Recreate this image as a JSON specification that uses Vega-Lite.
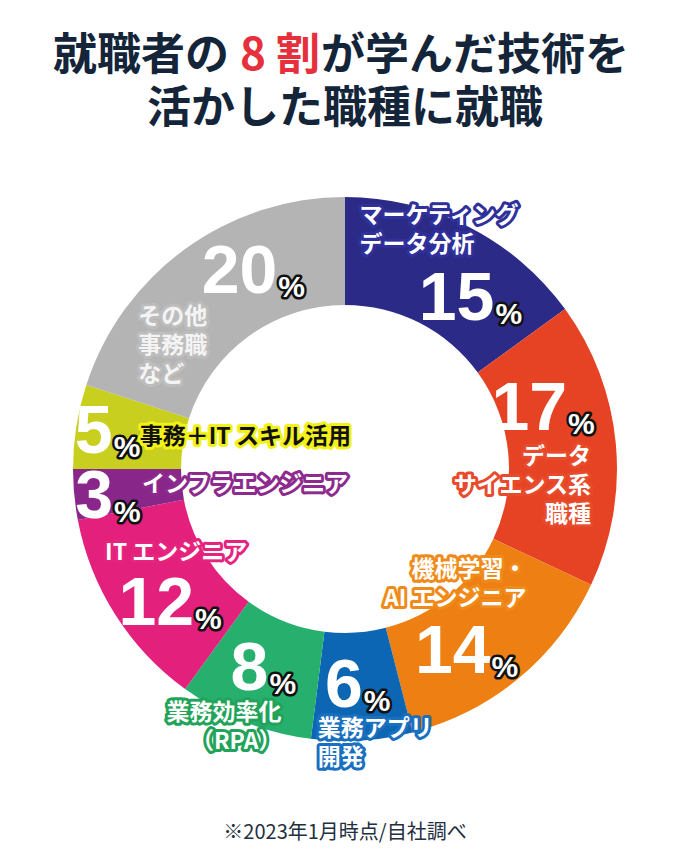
{
  "$schema": "https://vega.github.io/schema/vega-lite/v6.json",
  "width": 650,
  "height": 640,
  "autosize": {"type": "none"},
  "padding": {"left": 20, "top": 160, "right": 20, "bottom": 68},
  "background": "white",
  "config": {"view": {"fill": "#deeefa", "stroke": null, "cornerRadius": 14}},
  "datasets": {
    "share": [
      {"rank": 1, "category": "marketing", "label": "マーケティング\nデータ分析", "value": 15},
      {"rank": 2, "category": "datascience", "label": "データ\nサイエンス系\n職種", "value": 17},
      {"rank": 3, "category": "ml", "label": "機械学習・\nAI エンジニア", "value": 14},
      {"rank": 4, "category": "app", "label": "業務アプリ\n開発", "value": 6},
      {"rank": 5, "category": "rpa", "label": "業務効率化\n（RPA）", "value": 8},
      {"rank": 6, "category": "it", "label": "IT エンジニア", "value": 12},
      {"rank": 7, "category": "infra", "label": "インフラエンジニア", "value": 3},
      {"rank": 8, "category": "office", "label": "事務＋IT スキル活用", "value": 5},
      {"rank": 9, "category": "other", "label": "その他\n事務職\nなど", "value": 20}
    ]
  },
  "layer": [
    {
      "data": {"name": "share"},
      "encoding": {
        "theta": {"field": "value", "type": "quantitative", "stack": true},
        "order": {"field": "rank", "type": "quantitative"}
      },
      "layer": [
        {
          "mark": {"type": "arc", "outerRadius": 272, "innerRadius": 164, "y": {"expr": "height/2 - 11"}},
          "encoding": {
            "color": {
              "field": "category", "type": "nominal", "legend": null,
              "scale": {
                "domain": ["marketing", "datascience", "ml", "app", "rpa", "it", "infra", "office", "other"],
                "range": ["#2b2b87", "#e64325", "#ee7f12", "#0c66b4", "#27b06d", "#e3207b", "#88268a", "#c9cf1f", "#b4b4b4"]
              }
            }
          }
        },
        {
          "mark": {
            "type": "text", "radius": 219, "y": {"expr": "height/2 - 11"},
            "font": "Liberation Sans", "fontWeight": "bold", "fontSize": 68,
            "fill": "white", "align": "right", "baseline": "alphabetic",
            "dx": {"expr": "[50,4,6,4,4,34,-14,-16,61][datum.rank-1]"},
            "dy": {"expr": "[46,-18,35,19,17,39,28,18,1][datum.rank-1]"}
          },
          "encoding": {"text": {"field": "value", "type": "quantitative"}}
        },
        {
          "mark": {
            "type": "text", "radius": 219, "y": {"expr": "height/2 - 11"},
            "font": "Liberation Sans", "fontWeight": "bold", "fontSize": 30,
            "fill": "#111111", "stroke": "#111111", "strokeWidth": 5, "strokeJoin": "round",
            "align": "left", "baseline": "alphabetic",
            "dx": {"expr": "[50,4,6,4,4,34,-14,-16,61][datum.rank-1] + 1"},
            "dy": {"expr": "[46,-18,35,19,17,39,28,18,1][datum.rank-1] + 4"}
          },
          "encoding": {"text": {"value": "%"}}
        },
        {
          "mark": {
            "type": "text", "radius": 219, "y": {"expr": "height/2 - 11"},
            "font": "Liberation Sans", "fontWeight": "bold", "fontSize": 30,
            "fill": "white", "align": "left", "baseline": "alphabetic",
            "dx": {"expr": "[50,4,6,4,4,34,-14,-16,61][datum.rank-1] + 1"},
            "dy": {"expr": "[46,-18,35,19,17,39,28,18,1][datum.rank-1] + 4"}
          },
          "encoding": {"text": {"value": "%"}}
        },
        {
          "mark": {
            "type": "text", "radius": 219, "y": {"expr": "height/2 - 11"},
            "font": "Noto Sans CJK JP", "fontWeight": "bold", "fontSize": 23, "lineHeight": 29,
            "lineBreak": "\n", "strokeWidth": 6, "strokeJoin": "round", "fill": null,
            "baseline": "middle",
            "align": {"expr": "['left','right','right','left','right','left','left','left','left'][datum.rank-1]"},
            "dx": {"expr": "[-85,28,42,-41,17,-55,15,11,-78][datum.rank-1]"},
            "dy": {"expr": "[-57.5,9,-67.5,41.5,40.5,-33,-5,2,25][datum.rank-1]"}
          },
          "encoding": {
            "text": {"field": "label", "type": "nominal"},
            "stroke": {
              "field": "category", "type": "nominal", "legend": null,
              "scale": {
                "domain": ["marketing", "datascience", "ml", "app", "rpa", "it", "infra", "office", "other"],
                "range": ["#30309a", "#e84a2c", "#f08a1a", "#1a6fbf", "#21a35a", "#e6247e", "#8d2a8e", "#f2f21a", "#bdbdbd"]
              }
            }
          }
        },
        {
          "mark": {
            "type": "text", "radius": 219, "y": {"expr": "height/2 - 11"},
            "font": "Noto Sans CJK JP", "fontWeight": "bold", "fontSize": 23, "lineHeight": 29,
            "lineBreak": "\n", "baseline": "middle",
            "align": {"expr": "['left','right','right','left','right','left','left','left','left'][datum.rank-1]"},
            "dx": {"expr": "[-85,28,42,-41,17,-55,15,11,-78][datum.rank-1]"},
            "dy": {"expr": "[-57.5,9,-67.5,41.5,40.5,-33,-5,2,25][datum.rank-1]"}
          },
          "encoding": {
            "text": {"field": "label", "type": "nominal"},
            "fill": {
              "field": "category", "type": "nominal", "legend": null,
              "scale": {
                "domain": ["marketing", "datascience", "ml", "app", "rpa", "it", "infra", "office", "other"],
                "range": ["#ffffff", "#ffffff", "#ffffff", "#ffffff", "#ffffff", "#ffffff", "#ffffff", "#111111", "#f4f4f4"]
              }
            }
          }
        }
      ]
    },
    {
      "data": {"values": [{"t": "就職者の"}]},
      "mark": {"type": "text", "x": 209, "y": -90, "align": "right", "baseline": "alphabetic", "font": "Noto Sans CJK JP", "fontWeight": "bold", "fontSize": 44, "fill": "#14253a"},
      "encoding": {"text": {"field": "t", "type": "nominal"}}
    },
    {
      "data": {"values": [{"t": "8 割"}]},
      "mark": {"type": "text", "x": 260, "y": -90, "align": "center", "baseline": "alphabetic", "font": "Noto Sans CJK JP", "fontWeight": "bold", "fontSize": 44, "fill": "#e6303c"},
      "encoding": {"text": {"field": "t", "type": "nominal"}}
    },
    {
      "data": {"values": [{"t": "が学んだ技術を"}]},
      "mark": {"type": "text", "x": 301, "y": -90, "align": "left", "baseline": "alphabetic", "font": "Noto Sans CJK JP", "fontWeight": "bold", "fontSize": 44, "fill": "#14253a"},
      "encoding": {"text": {"field": "t", "type": "nominal"}}
    },
    {
      "data": {"values": [{"t": "活かした職種に就職"}]},
      "mark": {"type": "text", "x": 325, "y": -37, "align": "center", "baseline": "alphabetic", "font": "Noto Sans CJK JP", "fontWeight": "bold", "fontSize": 44, "fill": "#14253a"},
      "encoding": {"text": {"field": "t", "type": "nominal"}}
    },
    {
      "data": {"values": [{"t": "※2023年1月時点/自社調べ"}]},
      "mark": {"type": "text", "x": 325, "y": 673, "align": "center", "baseline": "middle", "font": "Noto Sans CJK JP", "fontSize": 20, "fill": "#24303f"},
      "encoding": {"text": {"field": "t", "type": "nominal"}}
    }
  ]
}
